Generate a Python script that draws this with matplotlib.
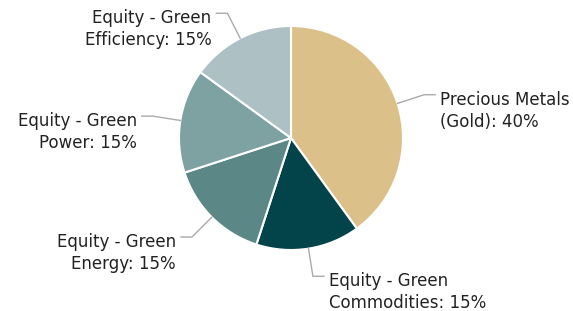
import numpy as np
import matplotlib.pyplot as plt

labels = ["Precious Metals\n(Gold)", "Equity - Green\nCommodities", "Equity - Green\nEnergy",
          "Equity - Green\nPower", "Equity - Green\nEfficiency"]
shares = [40, 15, 15, 15, 15]
colors = ["#dcc089", "#03444a", "#5b8887", "#7ea1a1", "#adc1c4"]

fig = plt.figure(figsize=(5.73, 3.11), dpi=100)
ax = fig.add_axes([0, 0, 1, 1])

# work in pixel-like data units, y up
cx, cy, r = 291, 173, 112
wedges, _ = ax.pie(shares, colors=colors, startangle=90, counterclock=False,
                   center=(cx, cy), radius=r,
                   wedgeprops=dict(edgecolor="white", linewidth=1.5))
ax.set_xlim(0, 573)
ax.set_ylim(0, 311)
ax.set_aspect("equal")
ax.axis("off")

for w, lab, val in zip(wedges, labels, shares):
    a = np.deg2rad((w.theta1 + w.theta2) / 2)
    x0, y0 = cx + r * np.cos(a), cy + r * np.sin(a)
    x1, y1 = cx + (r + 28) * np.cos(a), cy + (r + 28) * np.sin(a)
    side = 1 if np.cos(a) >= 0 else -1
    x2 = x1 + side * 11
    ax.plot([x0, x1, x2], [y0, y1, y1], color="#aaaaaa", lw=1)
    ax.text(x2 + side * 5, y1 + 4, f"{lab}: {val}%",
            ha="left" if side > 0 else "right", va="top",
            fontsize=12, color="#222222", linespacing=1.3)

fig.savefig("out.png")
